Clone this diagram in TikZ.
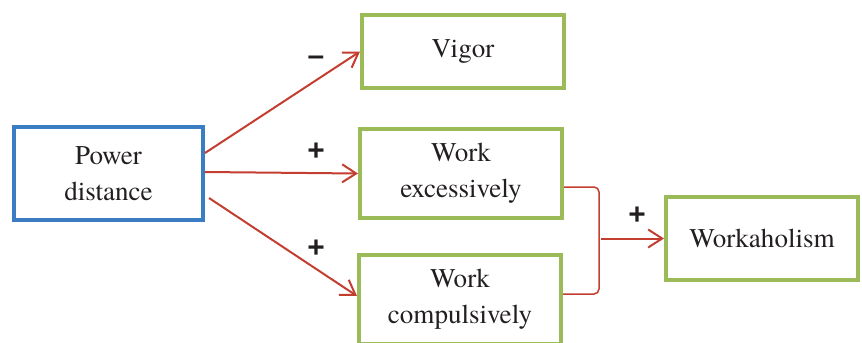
\documentclass[tikz,border=0pt]{standalone}
\usepackage{fontspec}
\newfontfamily\boxfont{TeX Gyre Termes}
\newfontfamily\signfont{Liberation Sans}
\usepackage{xcolor}
\usetikzlibrary{calc, positioning, arrows.meta}

\definecolor{pdblue}{RGB}{58,125,195}
\definecolor{boxgreen}{RGB}{155,187,89}
\definecolor{linkred}{RGB}{196,62,48}
\definecolor{inkgray}{RGB}{35,31,32}

\begin{document}
\begin{tikzpicture}[
    box/.style={draw=boxgreen, line width=0.08cm, rectangle, align=center,
        text=inkgray, font=\boxfont\fontsize{15.4}{20.4}\selectfont, inner sep=0pt},
    link/.style={draw=linkred, line width=0.04cm,
        -{Straight Barb[length=0.28cm, width=0.36cm, line width=0.04cm]}},
    sign/.style={font=\signfont\bfseries\fontsize{17}{17}\selectfont, text=inkgray}
]
    \clip (0,0) rectangle (17.24,-6.84);
    % boxes
    \node[box, draw=pdblue, minimum width=3.78cm, minimum height=1.86cm] (pd) at (2.17,-3.47) {Power\\distance};
    \node[box, minimum width=4.04cm, minimum height=1.46cm] (vig) at (9.26,-1.03) {Vigor};
    \node[box, minimum width=4.04cm, minimum height=1.78cm] (exc) at (9.22,-3.47) {Work\\excessively};
    \node[box, minimum width=4.04cm, minimum height=1.78cm] (comp) at (9.20,-5.99) {Work\\compulsively};
    \node[box, minimum width=3.84cm, minimum height=1.66cm] (wah) at (15.24,-4.77) {Workaholism};

    % paths from power distance
    \draw[link] ([yshift=0.41cm]pd.east) -- (vig.west);
    \draw[link] ([yshift=0.03cm]pd.east) -- (exc.west);
    \draw[link] ([xshift=0.08cm,yshift=-0.49cm]pd.east) -- ([yshift=0.07cm]comp.west);
    \node[sign] (s1) at (6.32,-1.22) {–};
    \node[sign] (s2) at (6.32,-3.04) {+};
    \node[sign] (s3) at (6.32,-4.98) {+};

    % bracket into workaholism
    \coordinate (b1) at (11.98,-3.74);
    \coordinate (b2) at (11.98,-5.88);
    \draw[draw=linkred, line width=0.03cm, rounded corners=0.1cm]
        (exc.east |- b1) -- (b1) -- (b2) -- (comp.east |- b2);
    \draw[link] (b1 |- wah.west) ++(0.04,0) -- (wah.west);
    \node[sign] (s4) at (12.74,-4.31) {+};
\end{tikzpicture}
\end{document}
